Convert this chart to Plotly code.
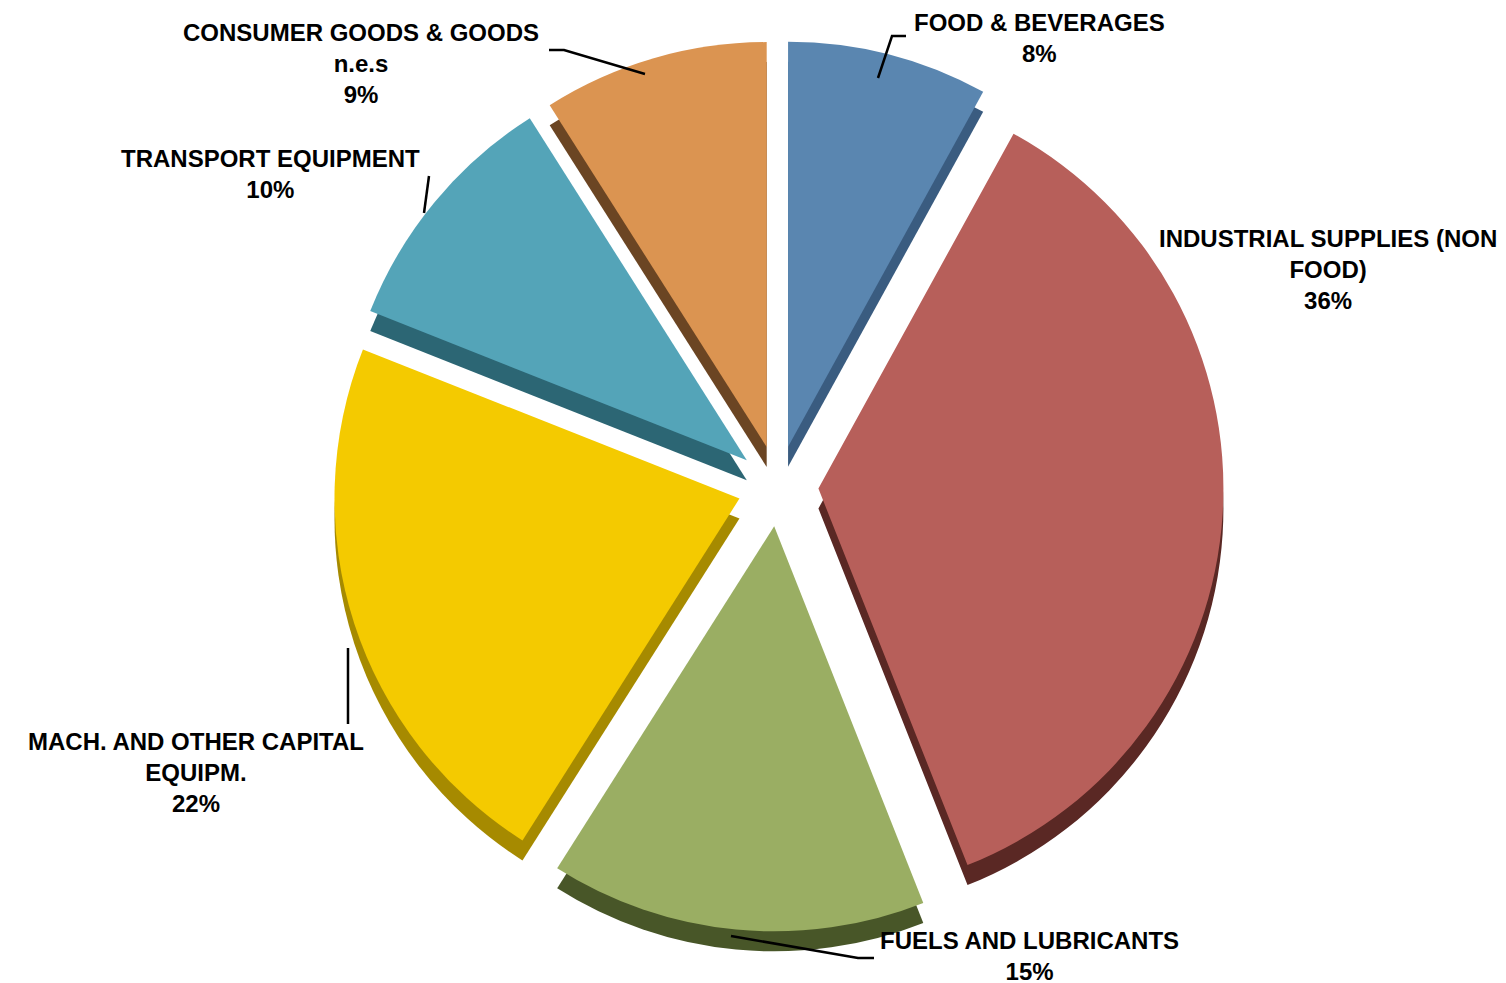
import plotly.graph_objects as go

# ---- data ----
categories = ["FOOD & BEVERAGES", "INDUSTRIAL SUPPLIES (NON FOOD)", "FUELS AND LUBRICANTS",
              "MACH. AND OTHER CAPITAL EQUIPM.", "TRANSPORT EQUIPMENT", "CONSUMER GOODS & GOODS n.e.s"]
label_lines = [["FOOD & BEVERAGES"], ["INDUSTRIAL SUPPLIES (NON", "FOOD)"], ["FUELS AND LUBRICANTS"],
               ["MACH. AND OTHER CAPITAL", "EQUIPM."], ["TRANSPORT EQUIPMENT"], ["CONSUMER GOODS & GOODS", "n.e.s"]]
shares = [8, 36, 15, 22, 10, 9]

# ---- styles ----
top_colors = ["#5A86B0", "#B75F5A", "#9AAE63", "#F4CA00", "#54A4B8", "#DB9451"]
side_colors = ["#3A5C80", "#5A2824", "#485628", "#A68A00", "#2C6674", "#6B4523"]

W, H = 1506, 983
cx, cy, r, pull = 770, 478, 405, 0.1
half = r * (1 + pull)
depth = 20

def dom(dy=0):
    return dict(x=[(cx - half) / W, (cx + half) / W],
                y=[1 - (cy + dy + half) / H, 1 - (cy + dy - half) / H])

fig = go.Figure()
fig.add_trace(go.Pie(values=shares, labels=categories, sort=False, direction="clockwise",
                     rotation=0, pull=[pull] * len(shares), domain=dom(depth),
                     marker=dict(colors=side_colors, line=dict(width=0)),
                     textinfo="none", hoverinfo="skip", showlegend=False))
fig.add_trace(go.Pie(values=shares, labels=categories, sort=False, direction="clockwise",
                     rotation=0, pull=[pull] * len(shares), domain=dom(0),
                     marker=dict(colors=top_colors, line=dict(width=0)),
                     textinfo="none", showlegend=False))

# label placement (pixel centre of label block) and leader lines
label_pos = [(1031, 30), (1320, 262), (1022, 948), (188, 764), (262, 166), (353, 56)]
leaders = [
    [(870, 70), (884, 28), (898, 28)],
    None,
    [(723, 928), (850, 950), (866, 950)],
    [(340, 640), (340, 716)],
    [(416, 205), (421, 168)],
    [(637, 66), (556, 42), (541, 42)],
]

for lines, s, (px, py) in zip(label_lines, shares, label_pos):
    text = "<br>".join(f"<b>{t}</b>" for t in lines + [f"{s}%"])
    fig.add_annotation(x=px / W, y=1 - py / H, xref="paper", yref="paper", text=text,
                       showarrow=False, xanchor="center", yanchor="middle", align="center",
                       borderpad=0,
                       font=dict(family="Liberation Sans, Arial", size=24, color="black"))

for pts in leaders:
    if not pts:
        continue
    path = "M " + " L ".join(f"{x / W:.5f},{1 - y / H:.5f}" for x, y in pts)
    fig.add_shape(type="path", path=path, xref="paper", yref="paper",
                  line=dict(color="black", width=2.5))

fig.update_layout(width=W, height=H, margin=dict(l=0, r=0, t=0, b=0),
                  paper_bgcolor="white", plot_bgcolor="white",
                  font=dict(family="Liberation Sans, Arial"))
fig.write_html("out.html")
